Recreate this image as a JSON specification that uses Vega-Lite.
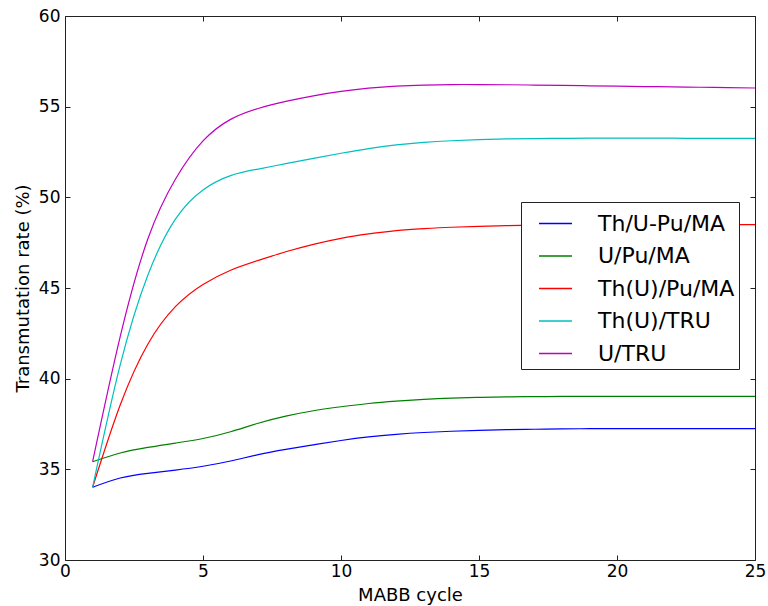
{
  "$schema": "https://vega.github.io/schema/vega-lite/v6.json",
  "width": 690,
  "height": 544,
  "autosize": {"type": "none"},
  "padding": {"left": 65, "top": 16, "right": 13, "bottom": 46},
  "background": "white",
  "config": {
    "font": "DejaVu Sans",
    "view": {"stroke": "#222222", "strokeWidth": 1},
    "axis": {
      "grid": false,
      "domainColor": "#222222",
      "tickColor": "#222222",
      "labelColor": "black",
      "titleColor": "black",
      "labelFont": "DejaVu Sans",
      "titleFont": "DejaVu Sans",
      "labelFontSize": 17,
      "titleFontSize": 18,
      "titleFontWeight": "normal"
    }
  },
  "datasets": {
    "curves": [
      {"cycle": 1, "value": 34.01, "series": "Th/U-Pu/MA"},
      {"cycle": 2, "value": 34.52, "series": "Th/U-Pu/MA"},
      {"cycle": 3, "value": 34.78, "series": "Th/U-Pu/MA"},
      {"cycle": 4, "value": 34.96, "series": "Th/U-Pu/MA"},
      {"cycle": 5, "value": 35.17, "series": "Th/U-Pu/MA"},
      {"cycle": 6, "value": 35.46, "series": "Th/U-Pu/MA"},
      {"cycle": 7, "value": 35.81, "series": "Th/U-Pu/MA"},
      {"cycle": 8, "value": 36.1, "series": "Th/U-Pu/MA"},
      {"cycle": 9, "value": 36.35, "series": "Th/U-Pu/MA"},
      {"cycle": 10, "value": 36.59, "series": "Th/U-Pu/MA"},
      {"cycle": 11, "value": 36.79, "series": "Th/U-Pu/MA"},
      {"cycle": 12, "value": 36.93, "series": "Th/U-Pu/MA"},
      {"cycle": 13, "value": 37.03, "series": "Th/U-Pu/MA"},
      {"cycle": 14, "value": 37.1, "series": "Th/U-Pu/MA"},
      {"cycle": 15, "value": 37.15, "series": "Th/U-Pu/MA"},
      {"cycle": 16, "value": 37.19, "series": "Th/U-Pu/MA"},
      {"cycle": 17, "value": 37.21, "series": "Th/U-Pu/MA"},
      {"cycle": 18, "value": 37.23, "series": "Th/U-Pu/MA"},
      {"cycle": 19, "value": 37.24, "series": "Th/U-Pu/MA"},
      {"cycle": 20, "value": 37.25, "series": "Th/U-Pu/MA"},
      {"cycle": 21, "value": 37.25, "series": "Th/U-Pu/MA"},
      {"cycle": 22, "value": 37.25, "series": "Th/U-Pu/MA"},
      {"cycle": 23, "value": 37.25, "series": "Th/U-Pu/MA"},
      {"cycle": 24, "value": 37.25, "series": "Th/U-Pu/MA"},
      {"cycle": 25, "value": 37.25, "series": "Th/U-Pu/MA"},

      {"cycle": 1, "value": 35.42, "series": "U/Pu/MA"},
      {"cycle": 2, "value": 35.9, "series": "U/Pu/MA"},
      {"cycle": 3, "value": 36.21, "series": "U/Pu/MA"},
      {"cycle": 4, "value": 36.45, "series": "U/Pu/MA"},
      {"cycle": 5, "value": 36.7, "series": "U/Pu/MA"},
      {"cycle": 6, "value": 37.07, "series": "U/Pu/MA"},
      {"cycle": 7, "value": 37.54, "series": "U/Pu/MA"},
      {"cycle": 8, "value": 37.93, "series": "U/Pu/MA"},
      {"cycle": 9, "value": 38.23, "series": "U/Pu/MA"},
      {"cycle": 10, "value": 38.45, "series": "U/Pu/MA"},
      {"cycle": 11, "value": 38.63, "series": "U/Pu/MA"},
      {"cycle": 12, "value": 38.76, "series": "U/Pu/MA"},
      {"cycle": 13, "value": 38.86, "series": "U/Pu/MA"},
      {"cycle": 14, "value": 38.93, "series": "U/Pu/MA"},
      {"cycle": 15, "value": 38.97, "series": "U/Pu/MA"},
      {"cycle": 16, "value": 39.0, "series": "U/Pu/MA"},
      {"cycle": 17, "value": 39.01, "series": "U/Pu/MA"},
      {"cycle": 18, "value": 39.02, "series": "U/Pu/MA"},
      {"cycle": 19, "value": 39.02, "series": "U/Pu/MA"},
      {"cycle": 20, "value": 39.02, "series": "U/Pu/MA"},
      {"cycle": 21, "value": 39.02, "series": "U/Pu/MA"},
      {"cycle": 22, "value": 39.02, "series": "U/Pu/MA"},
      {"cycle": 23, "value": 39.02, "series": "U/Pu/MA"},
      {"cycle": 24, "value": 39.02, "series": "U/Pu/MA"},
      {"cycle": 25, "value": 39.02, "series": "U/Pu/MA"},

      {"cycle": 1, "value": 34.01, "series": "Th(U)/Pu/MA"},
      {"cycle": 2, "value": 38.55, "series": "Th(U)/Pu/MA"},
      {"cycle": 3, "value": 41.9, "series": "Th(U)/Pu/MA"},
      {"cycle": 4, "value": 43.97, "series": "Th(U)/Pu/MA"},
      {"cycle": 5, "value": 45.19, "series": "Th(U)/Pu/MA"},
      {"cycle": 6, "value": 45.98, "series": "Th(U)/Pu/MA"},
      {"cycle": 7, "value": 46.52, "series": "Th(U)/Pu/MA"},
      {"cycle": 8, "value": 47.0, "series": "Th(U)/Pu/MA"},
      {"cycle": 9, "value": 47.41, "series": "Th(U)/Pu/MA"},
      {"cycle": 10, "value": 47.74, "series": "Th(U)/Pu/MA"},
      {"cycle": 11, "value": 47.98, "series": "Th(U)/Pu/MA"},
      {"cycle": 12, "value": 48.16, "series": "Th(U)/Pu/MA"},
      {"cycle": 13, "value": 48.27, "series": "Th(U)/Pu/MA"},
      {"cycle": 14, "value": 48.35, "series": "Th(U)/Pu/MA"},
      {"cycle": 15, "value": 48.4, "series": "Th(U)/Pu/MA"},
      {"cycle": 16, "value": 48.44, "series": "Th(U)/Pu/MA"},
      {"cycle": 17, "value": 48.47, "series": "Th(U)/Pu/MA"},
      {"cycle": 18, "value": 48.49, "series": "Th(U)/Pu/MA"},
      {"cycle": 19, "value": 48.5, "series": "Th(U)/Pu/MA"},
      {"cycle": 20, "value": 48.5, "series": "Th(U)/Pu/MA"},
      {"cycle": 21, "value": 48.5, "series": "Th(U)/Pu/MA"},
      {"cycle": 22, "value": 48.5, "series": "Th(U)/Pu/MA"},
      {"cycle": 23, "value": 48.5, "series": "Th(U)/Pu/MA"},
      {"cycle": 24, "value": 48.5, "series": "Th(U)/Pu/MA"},
      {"cycle": 25, "value": 48.5, "series": "Th(U)/Pu/MA"},

      {"cycle": 1, "value": 34.01, "series": "Th(U)/TRU"},
      {"cycle": 2, "value": 40.76, "series": "Th(U)/TRU"},
      {"cycle": 3, "value": 45.7, "series": "Th(U)/TRU"},
      {"cycle": 4, "value": 48.8, "series": "Th(U)/TRU"},
      {"cycle": 5, "value": 50.41, "series": "Th(U)/TRU"},
      {"cycle": 6, "value": 51.2, "series": "Th(U)/TRU"},
      {"cycle": 7, "value": 51.56, "series": "Th(U)/TRU"},
      {"cycle": 8, "value": 51.86, "series": "Th(U)/TRU"},
      {"cycle": 9, "value": 52.15, "series": "Th(U)/TRU"},
      {"cycle": 10, "value": 52.43, "series": "Th(U)/TRU"},
      {"cycle": 11, "value": 52.69, "series": "Th(U)/TRU"},
      {"cycle": 12, "value": 52.89, "series": "Th(U)/TRU"},
      {"cycle": 13, "value": 53.03, "series": "Th(U)/TRU"},
      {"cycle": 14, "value": 53.12, "series": "Th(U)/TRU"},
      {"cycle": 15, "value": 53.18, "series": "Th(U)/TRU"},
      {"cycle": 16, "value": 53.22, "series": "Th(U)/TRU"},
      {"cycle": 17, "value": 53.24, "series": "Th(U)/TRU"},
      {"cycle": 18, "value": 53.25, "series": "Th(U)/TRU"},
      {"cycle": 19, "value": 53.26, "series": "Th(U)/TRU"},
      {"cycle": 20, "value": 53.26, "series": "Th(U)/TRU"},
      {"cycle": 21, "value": 53.26, "series": "Th(U)/TRU"},
      {"cycle": 22, "value": 53.26, "series": "Th(U)/TRU"},
      {"cycle": 23, "value": 53.25, "series": "Th(U)/TRU"},
      {"cycle": 24, "value": 53.25, "series": "Th(U)/TRU"},
      {"cycle": 25, "value": 53.25, "series": "Th(U)/TRU"},

      {"cycle": 1, "value": 35.42, "series": "U/TRU"},
      {"cycle": 2, "value": 42.32, "series": "U/TRU"},
      {"cycle": 3, "value": 47.7, "series": "U/TRU"},
      {"cycle": 4, "value": 51.0, "series": "U/TRU"},
      {"cycle": 5, "value": 53.11, "series": "U/TRU"},
      {"cycle": 6, "value": 54.3, "series": "U/TRU"},
      {"cycle": 7, "value": 54.9, "series": "U/TRU"},
      {"cycle": 8, "value": 55.29, "series": "U/TRU"},
      {"cycle": 9, "value": 55.6, "series": "U/TRU"},
      {"cycle": 10, "value": 55.84, "series": "U/TRU"},
      {"cycle": 11, "value": 56.02, "series": "U/TRU"},
      {"cycle": 12, "value": 56.13, "series": "U/TRU"},
      {"cycle": 13, "value": 56.19, "series": "U/TRU"},
      {"cycle": 14, "value": 56.22, "series": "U/TRU"},
      {"cycle": 15, "value": 56.22, "series": "U/TRU"},
      {"cycle": 16, "value": 56.21, "series": "U/TRU"},
      {"cycle": 17, "value": 56.19, "series": "U/TRU"},
      {"cycle": 18, "value": 56.17, "series": "U/TRU"},
      {"cycle": 19, "value": 56.15, "series": "U/TRU"},
      {"cycle": 20, "value": 56.13, "series": "U/TRU"},
      {"cycle": 21, "value": 56.11, "series": "U/TRU"},
      {"cycle": 22, "value": 56.09, "series": "U/TRU"},
      {"cycle": 23, "value": 56.07, "series": "U/TRU"},
      {"cycle": 24, "value": 56.05, "series": "U/TRU"},
      {"cycle": 25, "value": 56.03, "series": "U/TRU"}
    ]
  },
  "data": {"name": "curves"},
  "layer": [
    {
      "mark": {"type": "line", "interpolate": "natural", "strokeWidth": 1.2, "clip": true},
      "encoding": {
        "x": {
          "field": "cycle", "type": "quantitative",
          "scale": {"domain": [0, 25], "nice": false, "zero": false},
          "axis": {"title": "MABB cycle", "values": [0, 5, 10, 15, 20, 25], "tickSize": -5, "labelPadding": 8, "titlePadding": 7, "labelFlush": false, "domain": false}
        },
        "y": {
          "field": "value", "type": "quantitative",
          "scale": {"domain": [30, 60], "nice": false, "zero": false},
          "axis": {"title": "Transmutation rate (%)", "values": [30, 35, 40, 45, 50, 55, 60], "tickSize": -5, "labelPadding": 10, "titlePadding": 6, "labelFlush": false, "domain": false}
        },
        "color": {
          "field": "series", "type": "nominal",
          "scale": {
            "domain": ["Th/U-Pu/MA", "U/Pu/MA", "Th(U)/Pu/MA", "Th(U)/TRU", "U/TRU"],
            "range": ["#0000ff", "#008000", "#ff0000", "#00bfbf", "#bf00bf"]
          },
          "legend": {
            "title": null,
            "orient": "none",
            "legendX": 456,
            "legendY": 186,
            "symbolType": "stroke",
            "symbolSize": 1089,
            "symbolStrokeWidth": 1.5,
            "symbolOffset": 13,
            "labelFontSize": 22,
            "labelFont": "DejaVu Sans",
            "labelColor": "black",
            "labelOffset": 25,
            "rowPadding": 3.5,
            "padding": 4,
            "strokeColor": "#222222",
            "fillColor": "white",
            "labelLimit": 300
          }
        }
      }
    },
    {
      "mark": {"type": "line", "opacity": 0},
      "encoding": {
        "x": {"field": "cycle", "type": "quantitative", "axis": {"orient": "top", "values": [0, 5, 10, 15, 20, 25], "labels": false, "title": null, "tickSize": -5, "domain": false}},
        "y": {"field": "value", "type": "quantitative", "axis": {"orient": "right", "values": [30, 35, 40, 45, 50, 55, 60], "labels": false, "title": null, "tickSize": -5, "domain": false}},
        "detail": {"field": "series"}
      }
    }
  ],
  "resolve": {"axis": {"x": "independent", "y": "independent"}}
}
